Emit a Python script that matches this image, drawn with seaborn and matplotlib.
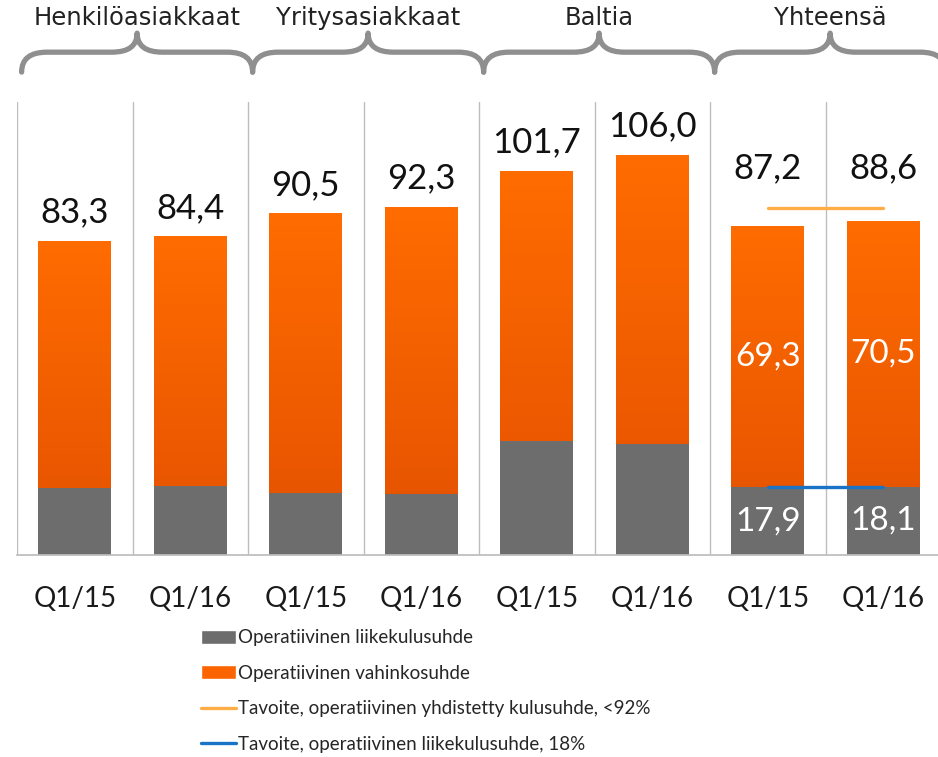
import seaborn as sns
import matplotlib.pyplot as plt
import numpy as np
import pandas as pd
from matplotlib.path import Path
from matplotlib.patches import PathPatch, Patch
from matplotlib.lines import Line2D
from matplotlib.colors import LinearSegmentedColormap

# Values
groups = ["Henkilöasiakkaat", "Yritysasiakkaat", "Baltia", "Yhteensä"]
quarters = ["Q1/15", "Q1/16"]
totals = [83.3, 84.4, 90.5, 92.3, 101.7, 106.0, 87.2, 88.6]
expense = [17.8, 18.3, 16.4, 16.2, 30.2, 29.4, 17.9, 18.1]
target_combined = 92
target_expense = 18

GRAY = "#6d6d6d"
ORANGE = "#fb6400"
GRID = "#bdbdbd"
LINE_ORANGE = "#ffad46"
LINE_BLUE = "#1a73c6"

keys, ticklabels, grp = [], [], []
for g in groups:
    for q in quarters:
        keys.append(g + " " + q)
        ticklabels.append(q)
        grp.append(g)
df = pd.DataFrame({"key": keys, "group": grp, "quarter": ticklabels,
                   "total": totals, "expense": expense})
df["loss"] = (df["total"] - df["expense"]).round(1)

sns.set_theme(style="white")
plt.rcParams["font.family"] = ["Lato", "DejaVu Sans"]

fig = plt.figure(figsize=(9.38, 7.57), dpi=100)
ax = fig.add_axes([17 / 938, (757 - 555) / 757, 924 / 938, 453 / 757])

# stacked bars: total in orange, expense ratio overlaid in gray
sns.barplot(data=df, x="key", y="total", color=ORANGE, saturation=1,
            width=0.63, linewidth=0, ax=ax)
n = len(df)
orange_bars = list(ax.patches[:n])
sns.barplot(data=df, x="key", y="expense", color=GRAY, saturation=1,
            width=0.63, linewidth=0, ax=ax)
for p in ax.patches[n:]:
    p.set_zorder(2)

# vertical gradient on the orange part (bright top, darker bottom)
cmap = LinearSegmentedColormap.from_list("og", ["#e35000", "#ff6c00"])
grad = np.linspace(0, 1, 256).reshape(-1, 1)
for p in orange_bars:
    x0, w, h = p.get_x(), p.get_width(), p.get_height()
    im = ax.imshow(grad, cmap=cmap, origin="lower", aspect="auto",
                   extent=(x0, x0 + w, 0, h), zorder=1.5)
    im.set_clip_path(p)

ax.set_xlim(-0.5, n - 0.5)
ax.set_ylim(0, 120)
ax.set_xlabel("")
ax.set_ylabel("")
ax.set_yticks([])
ax.set_xticks(range(n))
ax.set_xticklabels(ticklabels, fontsize=20, color="#1a1a1a")
ax.tick_params(axis="x", which="major", length=0, pad=22)
ax.set_xticks([i - 0.5 for i in range(n + 1)], minor=True)
ax.tick_params(axis="x", which="minor", length=10, color=GRID, width=1,
               direction="out")
ax.grid(False)
ax.grid(True, which="minor", axis="x", color=GRID, linewidth=1)
ax.set_axisbelow(True)
for s in ["top", "left", "right"]:
    ax.spines[s].set_visible(False)
ax.spines["bottom"].set_color(GRID)

# value labels
for i, row in df.iterrows():
    fmt = f"{row['total']:.1f}".replace(".", ",")
    if row["group"] == "Yhteensä":
        ax.annotate(fmt, (i, target_combined), xytext=(0, 17),
                    textcoords="offset points", ha="center", va="bottom",
                    fontsize=25, color="#111111", zorder=4)
    else:
        ax.annotate(fmt, (i, row["total"]), xytext=(0, 9),
                    textcoords="offset points", ha="center", va="bottom",
                    fontsize=25, color="#111111", zorder=4)
for i, row in df[df["group"] == "Yhteensä"].iterrows():
    ax.text(i, row["expense"] / 2, f"{row['expense']:.1f}".replace(".", ","),
            ha="center", va="center", fontsize=24, color="white", zorder=4)
    ax.text(i, row["expense"] + row["loss"] / 2,
            f"{row['loss']:.1f}".replace(".", ","),
            ha="center", va="center", fontsize=24, color="white", zorder=4)

# target lines for the total
tot_idx = df.index[df["group"] == "Yhteensä"]
ax.plot([tot_idx[0], tot_idx[-1]], [target_combined] * 2, color=LINE_ORANGE,
        linewidth=2.4, solid_capstyle="round", zorder=3)
ax.plot([tot_idx[0], tot_idx[-1]], [target_expense] * 2, color=LINE_BLUE,
        linewidth=2.4, solid_capstyle="round", zorder=3)

# group braces and headers
trans = ax.get_xaxis_transform()
yb, ym, yt = 1.066, 1.110, 1.152
r = 0.22
for k, g in enumerate(groups):
    x0 = 2 * k - 0.5 + 0.04
    x1 = 2 * k + 1.5 + 0.04
    xc = (x0 + x1) / 2
    verts = [(x0, yb), (x0, ym), (x0 + r, ym), (xc - r, ym),
             (xc, ym), (xc, yt), (xc, ym), (xc + r, ym),
             (x1 - r, ym), (x1, ym), (x1, yb)]
    codes = [Path.MOVETO, Path.CURVE3, Path.CURVE3, Path.LINETO,
             Path.CURVE3, Path.CURVE3, Path.CURVE3, Path.CURVE3,
             Path.LINETO, Path.CURVE3, Path.CURVE3]
    ax.add_patch(PathPatch(Path(verts, codes), facecolor="none",
                           edgecolor="#8f8f8f", linewidth=3.8,
                           capstyle="round", joinstyle="round",
                           transform=trans, clip_on=False))
    ax.text(xc, 1.185, g, transform=trans, ha="center", va="center",
            fontsize=17.5, color="#222222", family=["DejaVu Sans"])

# legend
handles = [
    Patch(facecolor=GRAY, label="Operatiivinen liikekulusuhde"),
    Patch(facecolor=ORANGE, label="Operatiivinen vahinkosuhde"),
    Line2D([], [], color=LINE_ORANGE, linewidth=2.4,
           label="Tavoite, operatiivinen yhdistetty kulusuhde, <92%"),
    Line2D([], [], color=LINE_BLUE, linewidth=2.4,
           label="Tavoite, operatiivinen liikekulusuhde, 18%"),
]
fig.legend(handles=handles, loc="upper left",
           bbox_to_anchor=(193 / 938, 1 - 622 / 757), frameon=False,
           fontsize=13.5, handlelength=1.9, handleheight=0.75,
           handletextpad=0.1, labelspacing=0.98, borderaxespad=0)

fig.savefig("out.png", dpi=100)
